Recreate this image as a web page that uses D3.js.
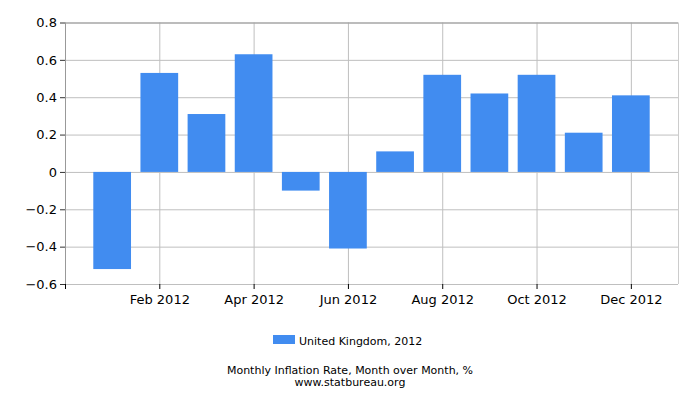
<!DOCTYPE html>
<html>
<head>
<meta charset="utf-8">
<script src="https://cdn.jsdelivr.net/npm/d3@7"></script>
<style>
  body { margin: 0; background: #fff; }
  text { font-family: "DejaVu Sans", sans-serif; fill: #000; }
</style>
</head>
<body>
<div id="chart"></div>
<script>
// chart values
var months = ["Jan 2012", "Feb 2012", "Mar 2012", "Apr 2012", "May 2012", "Jun 2012",
              "Jul 2012", "Aug 2012", "Sep 2012", "Oct 2012", "Nov 2012", "Dec 2012"];
var ukValues = [-0.52, 0.53, 0.31, 0.63, -0.10, -0.41, 0.11, 0.52, 0.42, 0.52, 0.21, 0.41];
var yTicks = [-0.6, -0.4, -0.2, 0, 0.2, 0.4, 0.6, 0.8];
var xTickLabels = ["Feb 2012", "Apr 2012", "Jun 2012", "Aug 2012", "Oct 2012", "Dec 2012"];

var W = 700, H = 400;
var margin = {top: 22.5, right: 22, bottom: 116, left: 65};
var width = W - margin.left - margin.right,
    height = H - margin.top - margin.bottom;

var svg = d3.select("#chart")
  .append("svg")
    .attr("width", W)
    .attr("height", H);

var g = svg.append("g")
  .attr("transform", `translate(${margin.left},${margin.top})`);

// one slot per month, plus half a month of padding either side
var x = d3.scaleLinear()
  .domain([0, months.length + 1])
  .range([0, width]);
var step = x(1) - x(0);

var y = d3.scaleLinear()
  .domain([-0.6, 0.8])
  .range([height, 0]);

// horizontal grid
g.append("g")
  .selectAll("line")
  .data(yTicks)
  .join("line")
    .attr("x1", 0).attr("x2", width)
    .attr("y1", d => y(d) + 0.5).attr("y2", d => y(d) + 0.5)
    .attr("stroke", "#bfbfbf");

// vertical grid at labelled months
g.append("g")
  .selectAll("line")
  .data(xTickLabels)
  .join("line")
    .attr("x1", d => x(months.indexOf(d) + 1) + 0.5)
    .attr("x2", d => x(months.indexOf(d) + 1) + 0.5)
    .attr("y1", 0).attr("y2", height)
    .attr("stroke", "#bfbfbf");

// frame
g.append("line").attr("x1", 0).attr("x2", width).attr("y1", 0.5).attr("y2", 0.5).attr("stroke", "#999");
g.append("line").attr("x1", width + 0.5).attr("x2", width + 0.5).attr("y1", 0).attr("y2", height).attr("stroke", "#ccc");
g.append("line").attr("x1", 0.5).attr("x2", 0.5).attr("y1", 0).attr("y2", height).attr("stroke", "#999");
g.append("line").attr("x1", 0).attr("x2", width).attr("y1", height + 0.5).attr("y2", height + 0.5).attr("stroke", "#bfbfbf");

// bars
g.append("g")
  .attr("fill", "#418cf0")
  .selectAll("rect")
  .data(ukValues)
  .join("rect")
    .attr("x", (d, i) => x(i + 1) - step * 0.4)
    .attr("width", step * 0.8)
    .attr("y", d => y(Math.max(0, d)))
    .attr("height", d => Math.abs(y(d) - y(0)));

// y axis
var yAxis = g.append("g")
  .call(d3.axisLeft(y).tickValues(yTicks).tickSize(5).tickPadding(3)
    .tickFormat(d => d === 0 ? "0" : d3.format(".1f")(d)));
yAxis.select(".domain").remove();
yAxis.selectAll(".tick line").attr("stroke", "#333");
yAxis.selectAll("text").style("font-size", "13px").attr("fill", "#000");

// x axis
var xAxis = g.append("g")
  .attr("transform", `translate(0,${height})`)
  .call(d3.axisBottom(x)
    .tickValues([0].concat(xTickLabels.map(d => months.indexOf(d) + 1)))
    .tickSize(5).tickPadding(6)
    .tickFormat(d => d === 0 ? "" : months[d - 1]));
xAxis.select(".domain").remove();
xAxis.selectAll(".tick line").attr("stroke", "#000");
xAxis.selectAll("text").style("font-size", "13px").attr("fill", "#000");

// legend
var legend = svg.append("g").attr("transform", "translate(273,335)");
legend.append("rect").attr("width", 22).attr("height", 9).attr("fill", "#418cf0");
legend.append("text").attr("x", 26).attr("y", 10).style("font-size", "11px").text("United Kingdom, 2012");

// caption
svg.append("text").attr("x", 350).attr("y", 374).attr("text-anchor", "middle")
  .style("font-size", "11px").text("Monthly Inflation Rate, Month over Month, %");
svg.append("text").attr("x", 350).attr("y", 386).attr("text-anchor", "middle")
  .style("font-size", "11px").text("www.statbureau.org");
</script>
</body>
</html>
